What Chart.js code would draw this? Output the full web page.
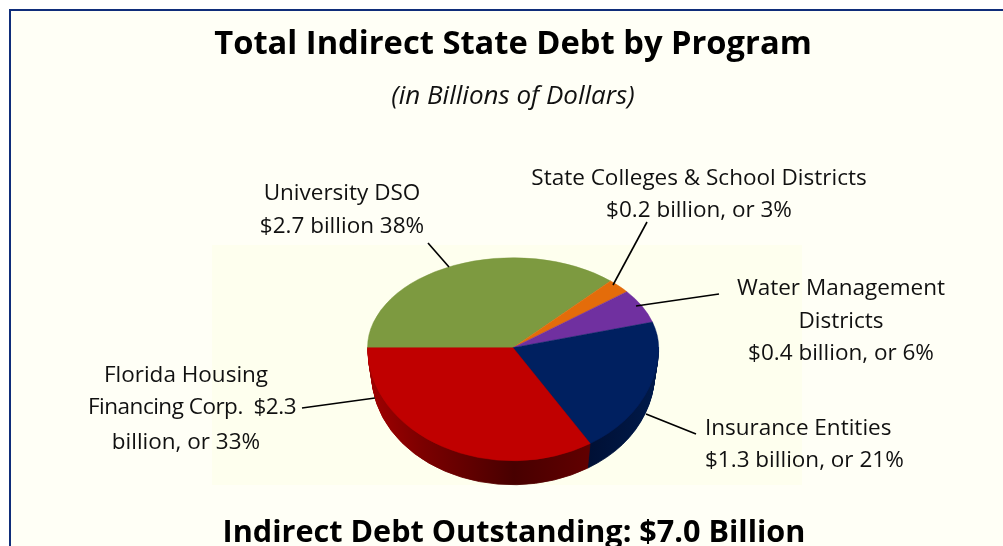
<!DOCTYPE html>
<html><head><meta charset="utf-8">
<style>html,body{margin:0;padding:0;background:#fff;overflow:hidden}canvas{display:block}</style>
<script src="https://cdn.jsdelivr.net/npm/chart.js@4"></script>
</head><body>
<canvas id="c" width="1003" height="546"></canvas>
<script>
const categories = ["University DSO","State Colleges & School Districts","Water Management Districts","Insurance Entities","Florida Housing Financing Corp."];
const sliceSharePercent = [36.7,2.6,6.1,20.7,33.9];
const sliceColors = ["#7D9A40","#E46C0A","#7030A0","#002060","#C00000"];
const labelLines = [
  ["University DSO","$2.7 billion 38%"],
  ["State Colleges & School Districts","$0.2 billion, or 3%"],
  ["Water Management","Districts","$0.4 billion, or 6%"],
  ["Insurance Entities","$1.3 billion, or 21%"],
  ["Florida Housing","Financing Corp.  $2.3","billion, or 33%"]
];
const titleText = "Total Indirect State Debt by Program";
const subtitleText = "(in Billions of Dollars)";
const footerText = "Indirect Debt Outstanding: $7.0 Billion";

const FONT = '"Open Sans"';
const labelPlacement = [
  {x:342,y:[194,227],align:"center"},
  {x:699,y:[179,211],align:"center"},
  {x:841,y:[289,322,354],align:"center"},
  {x:705,y:[429,461],align:"left"},
  {x:186,y:[376,408,443],align:"center"}
];
const leaders = [[428,243,449,267],[647,222,613,285],[719,294,636,306],[696,434,646,414],[302,408,375,398]];

const R = 145.5, RY_TOP = 90, RY_BOTTOM = 113;
const drawArc = (arc, ctx, bg, bw) => {
  const o = Object.assign({}, arc.options, {backgroundColor:bg, borderColor:bg, borderWidth:bw});
  const shim = Object.create(arc, {options:{value:o}});
  arc.draw.call(shim, ctx);
};
const pie3d = {
  id:"pie3d",
  beforeDraw(chart){
    const c = chart.ctx, W = chart.width, H = chart.height;
    c.save();
    c.fillStyle="#fff"; c.fillRect(0,0,W,H);
    c.fillStyle="#FFFFF6"; c.fillRect(10,10,W-10,H-10);
    c.fillStyle="#FEFFEE"; c.fillRect(212,245,590,240);
    c.strokeStyle="#0F2D7A"; c.lineWidth=2;
    c.beginPath(); c.moveTo(10,H); c.lineTo(10,10); c.lineTo(W,10); c.stroke();
    c.restore();
  },
  beforeDatasetsDraw(chart){
    const c = chart.ctx, arcs = chart.getDatasetMeta(0).data;
    const cx = arcs[0].x, cy = arcs[0].y;
    const red = c.createLinearGradient(cx-146,0,cx+80,0);
    red.addColorStop(0,"#A00000"); red.addColorStop(0.25,"#7A0000"); red.addColorStop(0.65,"#480000"); red.addColorStop(1,"#620000");
    const navy = c.createLinearGradient(cx+77,0,cx+146,0);
    navy.addColorStop(0,"#001035"); navy.addColorStop(1,"#001A4A");
    const side = [sliceColors[0],sliceColors[1],sliceColors[2],navy,red];
    c.save();
    c.beginPath(); c.rect(0,cy,chart.width,chart.height-cy); c.clip();
    for(let d=24;d>=1;d--){
      const t=d/24, s=1-0.03*t;
      c.save();
      c.translate(cx,cy+27.4*t); c.scale(s,s*RY_BOTTOM/R); c.translate(-cx,-cy);
      arcs.forEach((a,i)=>drawArc(a,c,side[i],1));
      c.restore();
    }
    c.restore();
    [[0,cy+0.5,RY_TOP],[cy-0.5,chart.height-cy+0.5,RY_BOTTOM]].forEach(([y,h,ry])=>{
      c.save();
      c.beginPath(); c.rect(0,y,chart.width,h); c.clip();
      c.translate(cx,cy); c.scale(1,ry/R); c.translate(-cx,-cy);
      arcs.forEach((a,i)=>drawArc(a,c,sliceColors[i],0.6));
      c.restore();
    });
    return false;
  },
  afterDraw(chart){
    const c = chart.ctx;
    c.save();
    c.strokeStyle="#000"; c.lineWidth=1.6;
    leaders.forEach(l=>{c.beginPath();c.moveTo(l[0],l[1]);c.lineTo(l[2],l[3]);c.stroke();});
    c.fillStyle="#111"; c.font="22.5px "+FONT; c.textBaseline="middle";
    labelLines.forEach((lines,i)=>{
      const p=labelPlacement[i]; c.textAlign=p.align;
      lines.forEach((t,j)=>{
        const tight = i===4&&j===1;
        c.letterSpacing = tight ? "-0.5px" : "0px";
        c.fillText(t,p.x+(tight?6:0),p.y[j]);
      });
    });
    c.letterSpacing="0px";
    c.fillStyle="#000"; c.textAlign="center"; c.textBaseline="alphabetic";
    c.font="bold 30.6px "+FONT;
    c.fillText(footerText,514,542);
    c.restore();
  }
};
new Chart(document.getElementById("c"),{
  type:"pie",
  data:{labels:categories,datasets:[{data:sliceSharePercent,backgroundColor:sliceColors,borderWidth:0}]},
  options:{
    responsive:false,animation:false,
    rotation:270,radius:R,
    layout:{padding:{left:23,right:0,top:0,bottom:16}},
    plugins:{
      legend:{display:false},tooltip:{enabled:false},
      title:{display:true,text:titleText,color:"#000",font:{family:FONT,size:32.7,weight:"bold"},padding:{top:25,bottom:17}},
      subtitle:{display:true,text:subtitleText,color:"#111",font:{family:FONT,size:26,style:"italic",weight:"normal"},padding:{top:0,bottom:53}}
    }
  },
  plugins:[pie3d]
});
</script>
</body></html>
